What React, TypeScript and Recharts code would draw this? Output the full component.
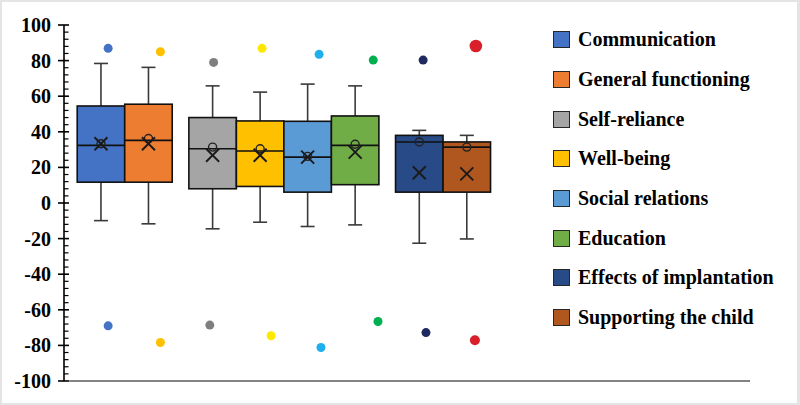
import React from 'react';
import { ComposedChart, Bar, Scatter, XAxis, YAxis, ReferenceLine } from 'recharts';

// Quality-of-life domains, one box each
const categories = [
  'Communication',
  'General functioning',
  'Self-reliance',
  'Well-being',
  'Social relations',
  'Education',
  'Effects of implantation',
  'Supporting the child',
];
// boxes are drawn in three clusters
const groupSizes = [2, 4, 2];

const whiskerHigh = [78.4, 76.2, 65.8, 62.3, 66.8, 65.8, 40.8, 38.0];
const q3 = [54.5, 55.5, 48.0, 46.1, 45.9, 48.9, 38.0, 34.3];
const median = [32.4, 35.2, 30.5, 29.2, 25.8, 32.4, 34.3, 31.4];
const q1 = [11.7, 11.7, 8.0, 9.3, 6.1, 10.3, 6.1, 6.1];
const whiskerLow = [-9.9, -11.7, -14.5, -10.8, -13.2, -12.3, -22.6, -20.2];
const mean = [33.3, 33.3, 26.8, 26.8, 25.8, 28.6, 17.0, 16.4];
const innerMarker = [33.3, 36.2, 31.4, 30.5, 26.2, 33.0, 34.3, 31.4];

const outlierHigh = [86.9, 85.0, 79.0, 86.9, 83.5, 80.3, 80.3, 88.2];
const outlierLow = [-69.0, -78.4, -68.6, -74.6, -81.2, -66.6, -72.8, -77.1];
// horizontal scatter of the outlier dots, in box widths
const jitterHigh = [0.15, 0.25, 0.02, 0.04, 0.24, 0.38, 0.08, 0.19];
const jitterLow = [0.15, 0.25, -0.06, 0.23, 0.28, 0.48, 0.14, 0.17];

const majorTicks = [-100, -80, -60, -40, -20, 0, 20, 40, 60, 80, 100];
const MINOR_STEPS = 5;

// styling
const boxColors = ['#4472C4', '#ED7D31', '#A5A5A5', '#FFC000', '#5B9BD5', '#70AD47', '#284A86', '#B0561F'];
const dotColors = ['#4472C4', '#FFC000', '#7F7F7F', '#FFE800', '#1EB0EC', '#00B050', '#1F2A60', '#D9202A'];
const dotRadiusHigh = [4.5, 4.5, 4.5, 4.5, 4.5, 4.5, 4.5, 6.3];
const dotRadiusLow = [4.5, 4.5, 4.5, 4.5, 4.5, 4.5, 4.5, 5];
const FONT = '"Liberation Serif", "DejaVu Serif", serif';
const GROUP_GAP = 0.35;
const BOX_PX = 47.5;

// slot position of every box: consecutive inside a cluster, a gap between clusters
const positions: number[] = [];
{
  let slot = 0;
  groupSizes.forEach((n, g) => {
    for (let i = 0; i < n; i++) {
      positions.push(slot + g * GROUP_GAP);
      slot += 1;
    }
  });
}

const allTicks: number[] = [];
for (let i = 0; i < majorTicks.length - 1; i++) {
  const a = majorTicks[i];
  const b = majorTicks[i + 1];
  for (let k = 0; k < MINOR_STEPS; k++) allTicks.push(a + ((b - a) * k) / MINOR_STEPS);
}
allTicks.push(majorTicks[majorTicks.length - 1]);

const boxData = categories.map((name, i) => ({
  name,
  pos: positions[i],
  lo: whiskerLow[i],
  hi: whiskerHigh[i],
  q1: q1[i],
  q3: q3[i],
  median: median[i],
  mean: mean[i],
  inner: innerMarker[i],
  idx: i,
}));

const outlierData = [
  ...categories.map((name, i) => ({
    name,
    pos: positions[i] + jitterHigh[i],
    value: outlierHigh[i],
    fill: dotColors[i],
    r: dotRadiusHigh[i],
  })),
  ...categories.map((name, i) => ({
    name,
    pos: positions[i] + jitterLow[i],
    value: outlierLow[i],
    fill: dotColors[i],
    r: dotRadiusLow[i],
  })),
];

const BoxShape = (props: any) => {
  const { x, y, width, height, payload } = props;
  const d = payload ?? boxData[props.index];
  const top = Math.min(y, y + height);
  const bottom = Math.max(y, y + height);
  const toY = (v: number) => top + ((d.hi - v) / (d.hi - d.lo)) * (bottom - top);
  const cx = x + width / 2;
  const bx = cx - BOX_PX / 2;
  const color = boxColors[d.idx];
  const yQ3 = toY(d.q3);
  const yQ1 = toY(d.q1);
  const yMed = toY(d.median);
  const yMean = toY(d.mean);
  const yInner = toY(d.inner);
  const cap = 7;
  const w = '#3a3a3a';
  const m = 6.5;
  return (
    <g>
      <line x1={cx} x2={cx} y1={top} y2={yQ3} stroke={w} strokeWidth={1.6} />
      <line x1={cx} x2={cx} y1={yQ1} y2={bottom} stroke={w} strokeWidth={1.6} />
      <line x1={cx - cap} x2={cx + cap} y1={top} y2={top} stroke={w} strokeWidth={1.6} />
      <line x1={cx - cap} x2={cx + cap} y1={bottom} y2={bottom} stroke={w} strokeWidth={1.6} />
      <rect x={bx} y={yQ3} width={BOX_PX} height={yQ1 - yQ3} fill={color} stroke="#111" strokeWidth={1.6} />
      <line x1={bx} x2={bx + BOX_PX} y1={yMed} y2={yMed} stroke="#111" strokeWidth={1.6} />
      <circle cx={cx} cy={yInner} r={4} fill="none" stroke="#222" strokeWidth={1.4} />
      <line x1={cx - m} x2={cx + m} y1={yMean - m} y2={yMean + m} stroke="#1a1a1a" strokeWidth={1.9} />
      <line x1={cx - m} x2={cx + m} y1={yMean + m} y2={yMean - m} stroke="#1a1a1a" strokeWidth={1.9} />
    </g>
  );
};

const OutlierDot = (props: any) => {
  const { cx, cy, payload } = props;
  return <circle cx={cx} cy={cy} r={payload.r} fill={payload.fill} />;
};

const YTick = (props: any) => {
  const { x, y, payload } = props;
  const v = payload.value;
  const major = majorTicks.includes(v);
  if (!major) {
    return <line x1={x} x2={x + 4.5} y1={y} y2={y} stroke="#000" strokeWidth={1.2} />;
  }
  return (
    <g>
      <line x1={x - 6} x2={x + 5} y1={y} y2={y} stroke="#000" strokeWidth={1.6} />
      <text
        x={x - 13}
        y={y}
        dy="0.35em"
        textAnchor="end"
        fontFamily={FONT}
        fontWeight="bold"
        fontSize={20}
        fill="#000"
      >
        {v}
      </text>
    </g>
  );
};

const LegendList = () => (
  <div
    style={{
      position: 'absolute',
      left: 553,
      top: 20,
      fontFamily: FONT,
      fontWeight: 'bold',
      fontSize: 20,
      color: '#000',
    }}
  >
    {categories.map((name, i) => (
      <div key={name} style={{ display: 'flex', alignItems: 'center', height: 39.7 }}>
        <span
          style={{
            display: 'inline-block',
            width: 15,
            height: 15,
            background: boxColors[i],
            border: '1.3px solid #262626',
            marginRight: 8,
          }}
        />
        <span style={{ whiteSpace: 'nowrap' }}>{name}</span>
      </div>
    ))}
  </div>
);

export default function App() {
  return (
    <div style={{ position: 'absolute', left: 0, top: 0, width: 800, height: 405, background: '#fff' }}>
      <ComposedChart
        width={800}
        height={405}
        data={boxData}
        margin={{ top: 25, right: 50, bottom: 24, left: 0 }}
      >
        <XAxis
          type="number"
          dataKey="pos"
          domain={[-0.779, 13.66]}
          allowDataOverflow
          hide
        />
        <YAxis
          type="number"
          domain={[-100, 100]}
          ticks={allTicks}
          interval={0}
          width={64}
          tickLine={false}
          tickSize={0}
          tickMargin={0}
          tick={<YTick />}
          axisLine={{ stroke: '#000', strokeWidth: 1.6 }}
        />
        <ReferenceLine
          segment={[
            { x: -0.67, y: -100 },
            { x: 13.66, y: -100 },
          ]}
          stroke="#5a5a5a"
          strokeWidth={1.5}
          ifOverflow="visible"
        />
        <Bar
          dataKey={(d: any) => [d.lo, d.hi]}
          barSize={BOX_PX}
          shape={<BoxShape />}
          isAnimationActive={false}
        />
        <Scatter data={outlierData} dataKey="value" shape={<OutlierDot />} isAnimationActive={false} />
      </ComposedChart>
      <LegendList />
      <div
        style={{
          position: 'absolute',
          left: 0,
          top: 0,
          width: 800,
          height: 405,
          boxSizing: 'border-box',
          borderTop: '2px solid #e4e4e4',
          borderLeft: '2px solid #e4e4e4',
          borderRight: '3px solid #e4e4e4',
          borderBottom: '2px solid #e4e4e4',
          pointerEvents: 'none',
        }}
      />
    </div>
  );
}
